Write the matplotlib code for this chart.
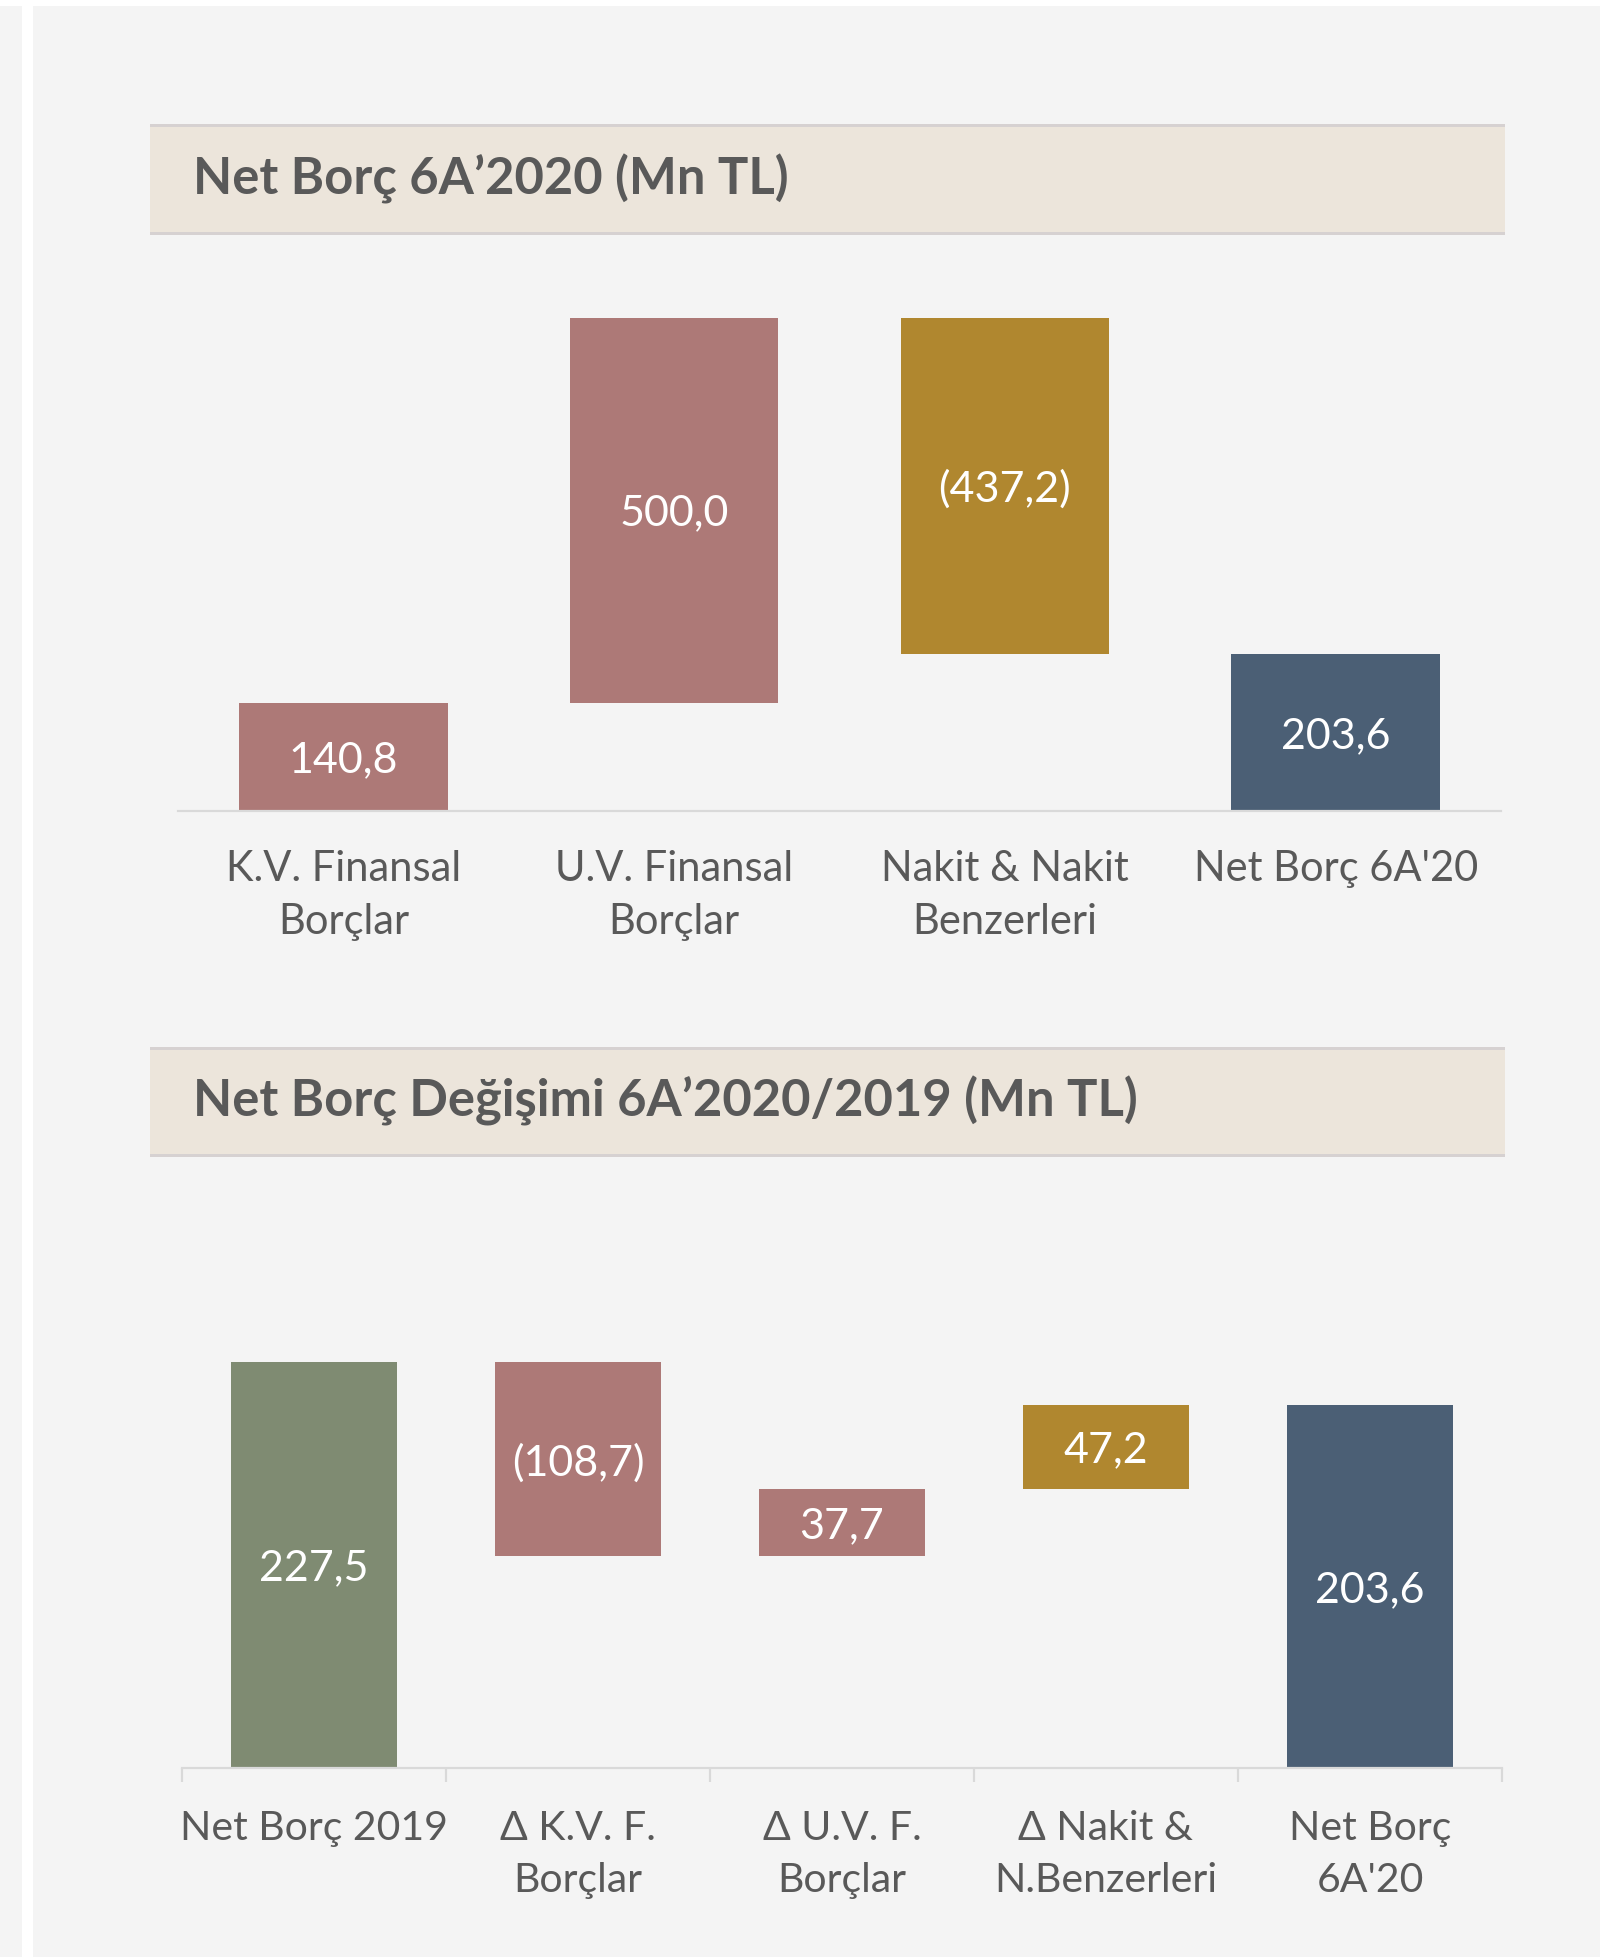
import matplotlib
matplotlib.use("Agg")
import matplotlib.pyplot as plt
from matplotlib.patches import Rectangle

W, H = 1602, 1957
DPI = 100

plt.rcParams['font.family'] = ['Lato', 'DejaVu Sans']

# ---------------- data ----------------
title1 = "Net Borç 6A’2020 (Mn TL)"
cats1 = ["K.V. Finansal\nBorçlar", "U.V. Finansal\nBorçlar",
         "Nakit & Nakit\nBenzerleri", "Net Borç 6A'20"]
vals1 = [140.8, 500.0, -437.2, 203.6]
labels1 = ["140,8", "500,0", "(437,2)", "203,6"]
kinds1 = ["step", "step", "step", "total"]

title2 = "Net Borç Değişimi 6A’2020/2019 (Mn TL)"
cats2 = ["Net Borç 2019", "Δ K.V. F.\nBorçlar", "Δ U.V. F.\nBorçlar",
         "Δ Nakit &\nN.Benzerleri", "Net Borç\n6A'20"]
vals2 = [227.5, -108.7, 37.7, 47.2, 203.6]
labels2 = ["227,5", "(108,7)", "37,7", "47,2", "203,6"]
kinds2 = ["total", "step", "step", "step", "total"]

PINK = "#AD7977"
GOLD = "#B0872F"
NAVY = "#4B5F75"
GREEN = "#7F8B72"
colors1 = [PINK, PINK, GOLD, NAVY]
colors2 = [GREEN, PINK, PINK, GOLD, NAVY]

BG = "#F4F4F4"
BAR_BG = "#ECE5DB"
BAR_LINE = "#D6D1D1"
TXT = "#595959"
AXIS = "#D9D9D9"

fig = plt.figure(figsize=(W / DPI, H / DPI), dpi=DPI)
fig.patch.set_facecolor(BG)


def frect(x0, y0, x1, y1, color):
    """rectangle in pixel coords (y from top)"""
    fig.patches.append(Rectangle((x0 / W, 1 - y1 / H), (x1 - x0) / W, (y1 - y0) / H,
                                 transform=fig.transFigure, facecolor=color,
                                 edgecolor='none', zorder=0))


# page decorations
frect(22, 0, 33, H, "#FFFFFF")
frect(0, 0, W, 6, "#FFFFFF")
frect(W - 2, 0, W, H, "#FFFFFF")


def title_bar(y0, y1, text, baseline):
    frect(150, y0, 1505, y1, BAR_BG)
    frect(150, y0, 1505, y0 + 3, BAR_LINE)
    frect(150, y1 - 3, 1505, y1, BAR_LINE)
    fig.text(193 / W, 1 - baseline / H, text, fontsize=36.5, fontweight='bold',
             color=TXT, ha='left', va='baseline')


title_bar(124, 235, title1, 194)
title_bar(1047, 1157, title2, 1117)


def waterfall(ax, vals, kinds, labels, colors):
    run = 0.0
    bottoms, heights = [], []
    for v, k in zip(vals, kinds):
        if k == "total":
            bottoms.append(0.0)
            heights.append(v)
            run = v
        else:
            bottoms.append(min(run, run + v))
            heights.append(abs(v))
            run = run + v
    xs = list(range(len(vals)))
    bars = ax.bar(xs, heights, bottom=bottoms, width=0.63, color=colors, zorder=2)
    for b, lab in zip(bars, labels):
        ax.text(b.get_x() + b.get_width() / 2, b.get_y() + b.get_height() / 2, lab,
                ha='center', va='center_baseline', color='white', fontsize=31, zorder=3)
    return xs


def setup_axes(ax, n, cats, pad, fs, boundary_ticks):
    ax.set_facecolor('none')
    for s in ['top', 'left', 'right']:
        ax.spines[s].set_visible(False)
    ax.spines['bottom'].set_color(AXIS)
    ax.spines['bottom'].set_linewidth(1.6)
    ax.set_xlim(-0.5, n - 0.5)
    ax.set_yticks([])
    ax.set_xticks(range(n))
    ax.set_xticklabels(cats, fontsize=fs, color=TXT, linespacing=1.5)
    ax.tick_params(axis='x', length=0, pad=pad)
    if boundary_ticks:
        ax.set_xticks([i - 0.5 for i in range(n + 1)], minor=True)
        ax.tick_params(axis='x', which='minor', length=10, width=1.6, color=AXIS)


# chart 1: baseline at y=811px, 0.770 px/unit
ax1 = fig.add_axes([178 / W, 1 - 811 / H, 1323 / W, 700 * 0.770 / H])
ax1.set_ylim(0, 700)
waterfall(ax1, vals1, kinds1, labels1, colors1)
setup_axes(ax1, len(vals1), cats1, 28, 30, False)

# chart 2: baseline at y=1768px, 1.783 px/unit
ax2 = fig.add_axes([182 / W, 1 - 1768 / H, 1320 / W, 300 * 1.783 / H])
ax2.set_ylim(0, 300)
waterfall(ax2, vals2, kinds2, labels2, colors2)
setup_axes(ax2, len(vals2), cats2, 30, 29.5, True)

fig.savefig("out.png", dpi=DPI, facecolor=fig.get_facecolor())
